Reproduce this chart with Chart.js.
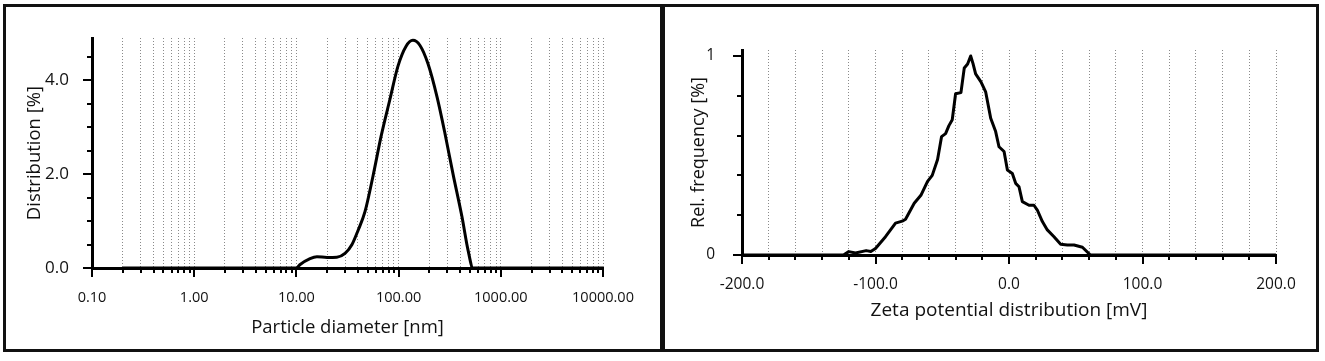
<!DOCTYPE html>
<html>
<head>
<meta charset="utf-8">
<script src="https://cdn.jsdelivr.net/npm/chart.js@4/dist/chart.umd.min.js"></script>
<style>
  html, body { margin: 0; padding: 0; background: #fff; }
  body { width: 1325px; height: 361px; position: relative; overflow: hidden; }
  canvas { position: absolute; top: 0; }
  #sizeChart { left: 0; }
  #zetaChart { left: 662px; }
  .frame { position: absolute; top: 4px; height: 342px; border: 3px solid #111; pointer-events: none; }
  #frameL { left: 3px; width: 654px; }
  #frameR { left: 662px; width: 651px; }
</style>
</head>
<body>
<canvas id="sizeChart" width="662" height="361"></canvas>
<canvas id="zetaChart" width="663" height="361"></canvas>
<div class="frame" id="frameL"></div>
<div class="frame" id="frameR"></div>
<script>
// particle size distribution (left)
const diameterNm = [0.2, 10, 10.8, 13.6, 15.9, 19.9, 24.9, 29.9, 35, 40.1, 46.9, 56.2, 67.3, 82.4, 98.6, 118, 138, 162, 194, 238, 284, 341, 417, 478, 535, 10000];
const distribution = [0, 0, 0.07, 0.2, 0.24, 0.225, 0.23, 0.31, 0.5, 0.8, 1.2, 1.96, 2.8, 3.6, 4.3, 4.72, 4.85, 4.74, 4.35, 3.64, 2.87, 2.0, 1.09, 0.38, 0, 0];
const diameterDecades = [0.1, 1, 10, 100, 1000, 10000];

// zeta potential distribution (right)
const zetaMv = [-200, -124, -120, -115, -107, -103.5, -100, -92.5, -85, -80, -77.5, -71, -66, -61, -57.5, -53.5, -50.5, -47.5, -45, -42.5, -40, -36, -33.5, -31, -28.7, -27, -25, -21, -17.5, -13.7, -10, -7.5, -3.7, -1.2, 2.5, 5, 7.5, 10, 15, 18.7, 21.2, 25, 28.7, 33.7, 38.7, 43.7, 48.7, 55, 61, 200];
const relFrequency = [0, 0, 0.017, 0.01, 0.022, 0.018, 0.033, 0.092, 0.16, 0.17, 0.18, 0.26, 0.3, 0.37, 0.4, 0.48, 0.595, 0.61, 0.65, 0.68, 0.81, 0.816, 0.94, 0.96, 1.0, 0.963, 0.91, 0.87, 0.82, 0.687, 0.62, 0.544, 0.52, 0.427, 0.41, 0.36, 0.343, 0.268, 0.25, 0.25, 0.226, 0.168, 0.126, 0.092, 0.054, 0.05, 0.05, 0.039, 0, 0];

const FONT = "'Open Sans', sans-serif";
Chart.defaults.font.family = FONT;
Chart.defaults.color = '#111';

// log ticks 0.1, 0.2 ... 10000
const diameterTicks = [];
diameterDecades.forEach((d, i) => {
  if (i === diameterDecades.length - 1) { diameterTicks.push(d); return; }
  for (let m = 1; m < 10; m++) diameterTicks.push(+(d * m).toPrecision(3));
});
const isDecade = v => Math.abs(Math.log10(v) - Math.round(Math.log10(v))) < 1e-9;

// short tick marks outside the axes, longer ones on labelled values
const tickMarks = {
  id: 'tickMarks',
  afterDraw(chart, args, opts) {
    const ctx = chart.ctx;
    const xs = chart.scales.x, ys = chart.scales.y;
    ctx.save();
    ctx.strokeStyle = '#000';
    ctx.lineWidth = 2;
    ctx.beginPath();
    xs.ticks.forEach(t => {
      const px = Math.round(xs.getPixelForValue(t.value));
      ctx.moveTo(px, xs.top);
      ctx.lineTo(px, xs.top + (opts.majorX(t.value) ? 9 : 5));
    });
    ys.ticks.forEach(t => {
      const py = Math.round(ys.getPixelForValue(t.value));
      ctx.moveTo(ys.right, py);
      ctx.lineTo(ys.right - (opts.majorY(t.value) ? 9 : 5), py);
    });
    ctx.stroke();
    ctx.restore();
  }
};

new Chart(document.getElementById('sizeChart'), {
  type: 'line',
  data: {
    datasets: [{
      data: diameterNm.map((d, i) => ({ x: d, y: distribution[i] })),
      borderColor: '#000',
      borderWidth: 3,
      pointRadius: 0,
      cubicInterpolationMode: 'monotone'
    }]
  },
  plugins: [tickMarks],
  options: {
    responsive: false,
    animation: false,
    devicePixelRatio: 1,
    layout: { padding: { left: 0, right: 59, top: 38, bottom: 0 } },
    plugins: {
      legend: { display: false },
      tooltip: { enabled: false },
      tickMarks: {
        majorX: v => isDecade(v),
        majorY: v => Math.abs(v % 2) < 1e-6
      }
    },
    scales: {
      x: {
        type: 'logarithmic',
        min: 0.1,
        max: 10000,
        afterBuildTicks: s => { s.ticks = diameterTicks.map(v => ({ value: v, major: isDecade(v) })); },
        afterFit: s => { s.height = 93; },
        grid: {
          drawTicks: false,
          color: c => (c.tick && c.tick.value > 0.1) ? '#8a8a8a' : 'rgba(0,0,0,0)',
          lineWidth: 1
        },
        border: { display: true, color: '#000', width: 3, dash: [1, 2] },
        ticks: {
          autoSkip: false,
          maxRotation: 0,
          padding: 21,
          font: { size: 14.5 },
          callback: v => isDecade(v) ? v.toFixed(2) : ''
        },
        title: {
          display: true,
          text: 'Particle diameter [nm]',
          font: { size: 18.5 },
          padding: { top: 0, bottom: 22 }
        }
      },
      y: {
        min: 0,
        max: 4.9,
        afterFit: s => { s.width = 92; },
        grid: { display: false },
        border: { display: true, color: '#000', width: 3 },
        ticks: {
          stepSize: 0.5,
          includeBounds: false,
          padding: 15,
          font: { size: 17 },
          callback: v => Math.abs(v % 2) < 1e-6 ? v.toFixed(1) : ''
        },
        title: {
          display: true,
          text: 'Distribution [%]',
          font: { size: 18.5 },
          padding: { top: 24, bottom: 0 }
        }
      }
    }
  }
});

new Chart(document.getElementById('zetaChart'), {
  type: 'line',
  data: {
    datasets: [{
      data: zetaMv.map((m, i) => ({ x: m, y: relFrequency[i] })),
      borderColor: '#000',
      borderWidth: 3,
      pointRadius: 0,
      tension: 0,
      borderJoinStyle: 'round'
    }]
  },
  plugins: [tickMarks],
  options: {
    responsive: false,
    animation: false,
    devicePixelRatio: 1,
    layout: { padding: { left: 0, right: 49, top: 50, bottom: 0 } },
    plugins: {
      legend: { display: false },
      tooltip: { enabled: false },
      tickMarks: {
        majorX: v => Math.round(v) % 100 === 0,
        majorY: v => Math.abs(v) < 1e-6 || Math.abs(v - 1) < 1e-6
      }
    },
    scales: {
      x: {
        type: 'linear',
        min: -200,
        max: 200,
        afterFit: s => { s.height = 106; },
        grid: {
          drawTicks: false,
          color: c => (c.tick && c.tick.value > -200) ? '#8a8a8a' : 'rgba(0,0,0,0)',
          lineWidth: 1
        },
        border: { display: true, color: '#000', width: 3, dash: [1, 2] },
        ticks: {
          stepSize: 20,
          autoSkip: false,
          maxRotation: 0,
          padding: 20,
          font: { size: 15.5 },
          callback: v => Math.round(v) % 100 === 0 ? v.toFixed(1) : ''
        },
        title: {
          display: true,
          text: 'Zeta potential distribution [mV]',
          font: { size: 19 },
          padding: { top: 0, bottom: 39 }
        }
      },
      y: {
        min: 0,
        max: 1.03,
        afterFit: s => { s.width = 80; },
        grid: { display: false },
        border: { display: true, color: '#000', width: 3 },
        ticks: {
          stepSize: 0.2,
          includeBounds: false,
          padding: 19,
          font: { size: 15.5 },
          callback: v => (Math.abs(v) < 1e-6 ? '0' : (Math.abs(v - 1) < 1e-6 ? '1' : ''))
        },
        title: {
          display: true,
          text: 'Rel. frequency [%]',
          font: { size: 18 },
          padding: { top: 26, bottom: 0 }
        }
      }
    }
  }
});
</script>
</body>
</html>
